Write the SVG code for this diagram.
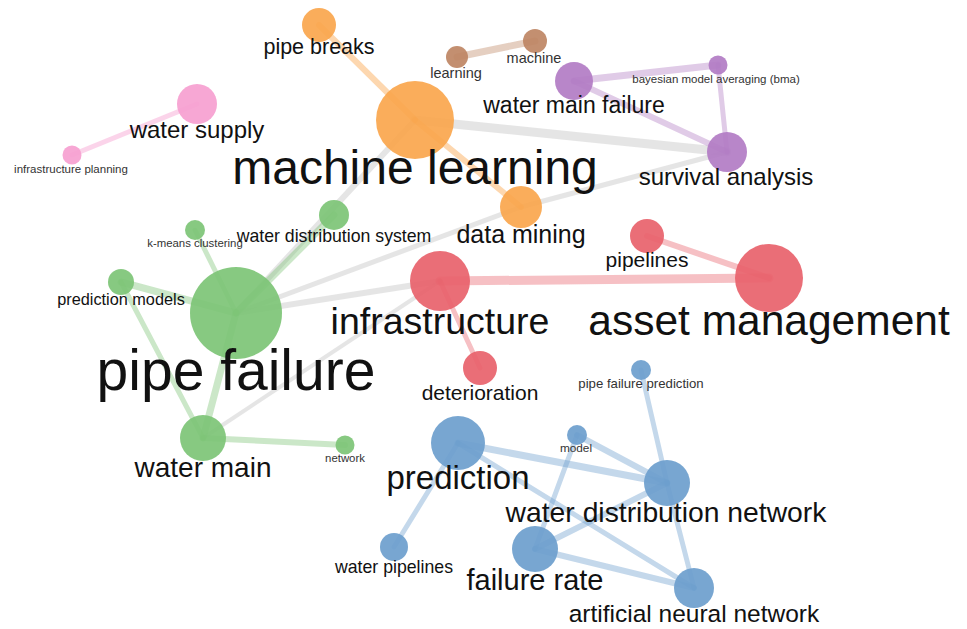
<svg xmlns="http://www.w3.org/2000/svg" width="967" height="629" viewBox="0 0 967 629">
<style>
  text{font-family:"Liberation Sans",Arial,sans-serif;text-anchor:middle;fill:#111}
  .sm{fill:#333}
  line{stroke-linecap:round;fill:none}
  .g{stroke:#d4d4d4;stroke-opacity:0.6}
  .gr{stroke:#7dc476;stroke-opacity:0.4}
  .rd{stroke:#e8626b;stroke-opacity:0.4}
  .bl{stroke:#6c9ecd;stroke-opacity:0.4}
  .pu{stroke:#b27cc4;stroke-opacity:0.4}
  .or{stroke:#faa64d;stroke-opacity:0.45}
  .br{stroke:#be8664;stroke-opacity:0.4}
  .pk{stroke:#f6a0d0;stroke-opacity:0.45}
  circle{fill-opacity:0.92}
  .cg{fill:#7dc476}.cr{fill:#e8626b}.cb{fill:#6c9ecd}.cp{fill:#b27cc4}.co{fill:#faa64d}.cbr{fill:#be8664}.cpk{fill:#f6a0d0}
</style>
<rect width="967" height="629" fill="#fff"/>
<g id="connectors">
  <line class="g" x1="415" y1="120" x2="727" y2="152" stroke-width="9"/>
  <line class="g" x1="415" y1="120" x2="236" y2="313" stroke-width="6"/>
  <line class="g" x1="236" y1="313" x2="521" y2="207" stroke-width="5"/>
  <line class="g" x1="236" y1="313" x2="440" y2="281" stroke-width="6"/>
  <line class="g" x1="203" y1="438" x2="440" y2="281" stroke-width="4"/>
  <line class="g" x1="521" y1="207" x2="727" y2="152" stroke-width="5"/>
  <line class="or" x1="319" y1="25" x2="415" y2="120" stroke-width="6"/>
  <line class="or" x1="415" y1="120" x2="521" y2="207" stroke-width="6"/>
  <line class="br" x1="457" y1="57" x2="535" y2="41" stroke-width="7"/>
  <line class="pk" x1="197" y1="104" x2="72" y2="155" stroke-width="5"/>
  <line class="pu" x1="574" y1="81" x2="718" y2="65" stroke-width="7"/>
  <line class="pu" x1="574" y1="81" x2="727" y2="152" stroke-width="6"/>
  <line class="pu" x1="718" y1="65" x2="727" y2="152" stroke-width="5"/>
  <line class="gr" x1="236" y1="313" x2="334" y2="215" stroke-width="7"/>
  <line class="gr" x1="236" y1="313" x2="195" y2="230" stroke-width="5"/>
  <line class="gr" x1="236" y1="313" x2="121" y2="282" stroke-width="7"/>
  <line class="gr" x1="236" y1="313" x2="203" y2="438" stroke-width="7"/>
  <line class="gr" x1="121" y1="282" x2="203" y2="438" stroke-width="5"/>
  <line class="gr" x1="203" y1="438" x2="345" y2="445" stroke-width="6"/>
  <line class="rd" x1="440" y1="281" x2="769" y2="278" stroke-width="9"/>
  <line class="rd" x1="647" y1="236" x2="769" y2="278" stroke-width="6"/>
  <line class="rd" x1="440" y1="281" x2="480" y2="368" stroke-width="5"/>
  <line class="bl" x1="458" y1="443" x2="667" y2="483" stroke-width="7"/>
  <line class="bl" x1="458" y1="443" x2="694" y2="588" stroke-width="5"/>
  <line class="bl" x1="458" y1="443" x2="394" y2="547" stroke-width="5"/>
  <line class="bl" x1="577" y1="435" x2="667" y2="483" stroke-width="6"/>
  <line class="bl" x1="577" y1="435" x2="535" y2="549" stroke-width="5"/>
  <line class="bl" x1="641" y1="370" x2="667" y2="483" stroke-width="5"/>
  <line class="bl" x1="667" y1="483" x2="694" y2="588" stroke-width="5"/>
  <line class="bl" x1="535" y1="549" x2="667" y2="483" stroke-width="6"/>
  <line class="bl" x1="535" y1="549" x2="694" y2="588" stroke-width="6"/>
</g>
<g id="n-pipe-breaks"><circle class="co" cx="319" cy="25" r="17"/><text x="319" y="54" font-size="21.5">pipe breaks</text></g>
<g id="n-machine-learning"><circle class="co" cx="415" cy="120" r="39"/><text x="415" y="184" font-size="48">machine learning</text></g>
<g id="n-data-mining"><circle class="co" cx="521" cy="207" r="21"/><text x="521" y="243" font-size="25">data mining</text></g>
<g id="n-learning"><circle class="cbr" cx="457" cy="57" r="11"/><text class="sm" x="456" y="78" font-size="14.5">learning</text></g>
<g id="n-machine"><circle class="cbr" cx="535" cy="41" r="12"/><text class="sm" x="534" y="63" font-size="14.5">machine</text></g>
<g id="n-water-main-failure"><circle class="cp" cx="574" cy="81" r="19"/><text x="574" y="113" font-size="23">water main failure</text></g>
<g id="n-bma"><circle class="cp" cx="718" cy="65" r="9.5"/><text class="sm" x="716" y="83" font-size="11.5">bayesian model averaging (bma)</text></g>
<g id="n-survival-analysis"><circle class="cp" cx="727" cy="152" r="20"/><text x="726" y="185" font-size="24">survival analysis</text></g>
<g id="n-water-supply"><circle class="cpk" cx="197" cy="104" r="20"/><text x="197" y="138" font-size="24">water supply</text></g>
<g id="n-infrastructure-planning"><circle class="cpk" cx="72" cy="155" r="9.5"/><text class="sm" x="71" y="173" font-size="11.5">infrastructure planning</text></g>
<g id="n-water-distribution-system"><circle class="cg" cx="334" cy="215" r="15"/><text x="334" y="242" font-size="17.7">water distribution system</text></g>
<g id="n-k-means"><circle class="cg" cx="195" cy="230" r="10"/><text class="sm" x="195" y="247" font-size="11.4">k-means clustering</text></g>
<g id="n-prediction-models"><circle class="cg" cx="121" cy="282" r="13"/><text x="121" y="305" font-size="16.3">prediction models</text></g>
<g id="n-pipe-failure"><circle class="cg" cx="236" cy="313" r="46"/><text x="236" y="390" font-size="57">pipe failure</text></g>
<g id="n-water-main"><circle class="cg" cx="203" cy="438" r="23"/><text x="203" y="477" font-size="28">water main</text></g>
<g id="n-network"><circle class="cg" cx="345" cy="445" r="9.5"/><text class="sm" x="345" y="462" font-size="11.4">network</text></g>
<g id="n-infrastructure"><circle class="cr" cx="440" cy="281" r="30"/><text x="440" y="334" font-size="37.5">infrastructure</text></g>
<g id="n-pipelines"><circle class="cr" cx="647" cy="236" r="17"/><text x="647" y="267" font-size="21">pipelines</text></g>
<g id="n-asset-management"><circle class="cr" cx="769" cy="278" r="34"/><text x="769" y="335" font-size="42.5">asset management</text></g>
<g id="n-deterioration"><circle class="cr" cx="480" cy="368" r="17"/><text x="480" y="400" font-size="21">deterioration</text></g>
<g id="n-pipe-failure-prediction"><circle class="cb" cx="641" cy="370" r="10"/><text class="sm" x="641" y="388" font-size="13.2">pipe failure prediction</text></g>
<g id="n-prediction"><circle class="cb" cx="458" cy="443" r="27"/><text x="458" y="489" font-size="33">prediction</text></g>
<g id="n-model"><circle class="cb" cx="577" cy="435" r="10"/><text class="sm" x="576" y="452" font-size="11.8">model</text></g>
<g id="n-water-distribution-network"><circle class="cb" cx="667" cy="483" r="23"/><text x="666" y="522" font-size="28.3">water distribution network</text></g>
<g id="n-water-pipelines"><circle class="cb" cx="394" cy="547" r="14"/><text x="394" y="573" font-size="17.7">water pipelines</text></g>
<g id="n-failure-rate"><circle class="cb" cx="535" cy="549" r="23"/><text x="535" y="590" font-size="29">failure rate</text></g>
<g id="n-ann"><circle class="cb" cx="694" cy="588" r="20"/><text x="694" y="622" font-size="24.5">artificial neural network</text></g>
</svg>
